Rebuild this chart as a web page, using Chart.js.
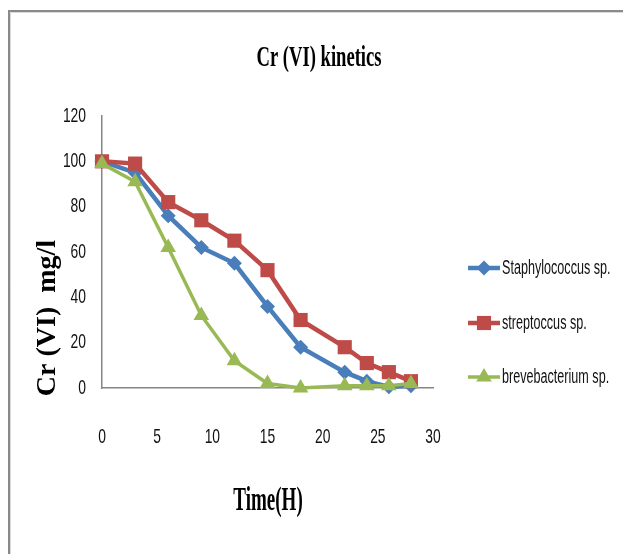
<!DOCTYPE html>
<html>
<head>
<meta charset="utf-8">
<script src="https://cdn.jsdelivr.net/npm/chart.js@4.4.1/dist/chart.umd.min.js"></script>
<style>
html,body{margin:0;padding:0;background:#fff;}
#wrap{width:623px;height:554px;position:relative;}
</style>
</head>
<body>
<div id="wrap"><canvas id="c" width="623" height="554"></canvas></div>
<script>
const chartTitle = "Cr (VI) kinetics";
const xTitle = "Time(H)";
const yTitle = "Cr (VI)  mg/l";
const time = [0, 3, 6, 9, 12, 15, 18, 22, 24, 26, 28];
const staphylococcus = [100, 95, 76, 62, 55, 36, 18, 7, 3, 0.5, 1];
const streptoccus = [100, 99, 82, 74, 65, 52, 30, 18, 11, 7, 3];
const brevebacterium = [99, 91, 62, 32, 12, 2, 0, 1, 1, 1, 2];
const seriesNames = ["Staphylococcus sp.", "streptoccus sp.", "brevebacterium sp."];
const xTicks = [0, 5, 10, 15, 20, 25, 30];
const yTicks = [0, 20, 40, 60, 80, 100, 120];

const colors = ["#4A7EBB", "#BE4B48", "#98B954"];
const styles = ["rectRot", "rect", "triangle"];
const radii = [7.5, 10, 9];
const widths = [4.5, 4.5, 3.5];

function pts(arr){ return time.map((t,i)=>({x:t,y:arr[i]})); }

const datasets = [staphylococcus, streptoccus, brevebacterium].map((arr,i)=>({
  label: seriesNames[i],
  data: pts(arr),
  borderColor: colors[i],
  backgroundColor: colors[i],
  borderWidth: widths[i],
  pointStyle: styles[i],
  pointRadius: radii[i],
  pointBorderWidth: 0,
  pointBackgroundColor: colors[i],
  tension: 0,
  clip: false
}));
datasets[0].order = 3; datasets[1].order = 2; datasets[2].order = 1;

const tickFont = '21px "Liberation Sans"';
const tickSquash = 0.66;

function drawSquashed(ctx, text, x, y, font, sx, align){
  ctx.save();
  ctx.font = font;
  const w = ctx.measureText(text).width * sx;
  let x0 = x;
  if (align === 'center') x0 = x - w/2;
  else if (align === 'right') x0 = x - w;
  ctx.translate(x0, y);
  ctx.scale(sx, 1);
  ctx.textAlign = 'left';
  ctx.fillText(text, 0, 0);
  ctx.restore();
}

const decor = {
  id: 'decor',
  beforeDraw(chart){
    const ctx = chart.ctx;
    ctx.save();
    ctx.fillStyle = '#fff';
    ctx.fillRect(0,0,chart.width,chart.height);
    ctx.strokeStyle = '#8a8a8a';
    ctx.lineWidth = 2;
    ctx.beginPath();
    ctx.moveTo(9, 554); ctx.lineTo(9, 11); ctx.lineTo(623, 11);
    ctx.stroke();
    ctx.strokeStyle = '#d8d8d8';
    ctx.lineWidth = 1;
    ctx.beginPath();
    ctx.moveTo(10.5, 554); ctx.lineTo(10.5, 12.5); ctx.lineTo(623, 12.5);
    ctx.stroke();
    ctx.restore();
  },
  afterDraw(chart){
    const ctx = chart.ctx;
    ctx.save();
    ctx.fillStyle = '#111';
    const xs = chart.scales.x, ys = chart.scales.y;
    ctx.textBaseline = 'middle';
    xTicks.forEach(v => drawSquashed(ctx, String(v), xs.getPixelForValue(v), 437, tickFont, tickSquash, 'center'));
    yTicks.forEach(v => drawSquashed(ctx, String(v), 86, ys.getPixelForValue(v), tickFont, tickSquash, 'right'));
    ctx.fillStyle = '#000';
    ctx.textBaseline = 'alphabetic';
    drawSquashed(ctx, chartTitle, 319, 66, 'bold 30px "Liberation Serif"', 0.62, 'center');
    drawSquashed(ctx, xTitle, 268, 510, 'bold 34px "Liberation Serif"', 0.56, 'center');
    ctx.save();
    ctx.translate(55, 318);
    ctx.rotate(-Math.PI/2);
    ctx.font = 'bold 28px "Liberation Serif"';
    ctx.textAlign = 'center';
    ctx.fillText(yTitle, 0, 0);
    ctx.restore();
    const ly = [268, 323, 377];
    chart.data.datasets.forEach((ds, i) => {
      const y = ly[i];
      ctx.save();
      ctx.strokeStyle = ds.borderColor;
      ctx.lineWidth = ds.borderWidth;
      ctx.beginPath();
      ctx.moveTo(468, y); ctx.lineTo(500, y);
      ctx.stroke();
      ctx.fillStyle = ds.backgroundColor;
      ctx.strokeStyle = ds.backgroundColor;
      Chart.helpers.drawPoint(ctx, {pointStyle: ds.pointStyle, rotation: 0, borderWidth: 0, radius: ds.pointRadius}, 484, y);
      ctx.restore();
      ctx.fillStyle = '#111';
      ctx.textBaseline = 'middle';
      drawSquashed(ctx, ds.label, 502, y, '20px "Liberation Sans"', 0.63, 'left');
    });
    ctx.restore();
  }
};

new Chart(document.getElementById('c'), {
  type: 'line',
  data: { datasets },
  options: {
    responsive: false,
    animation: false,
    layout: { padding: { left: 0, right: 190, top: 116, bottom: 0 } },
    plugins: { legend: { display: false }, title: { display: false }, tooltip: { enabled: false } },
    scales: {
      x: {
        type: 'linear', min: 0, max: 30,
        afterFit(s){ s.height = 166; },
        afterBuildTicks(s){ s.ticks = xTicks.map(v=>({value:v})); },
        grid: { display: true, drawOnChartArea: false, drawTicks: false },
        border: { display: true, color: '#868686', width: 1.5 },
        ticks: { display: false }
      },
      y: {
        min: 0, max: 120,
        afterFit(s){ s.width = 102; },
        afterBuildTicks(s){ s.ticks = yTicks.map(v=>({value:v})); },
        grid: { display: true, drawOnChartArea: false, drawTicks: false },
        border: { display: true, color: '#868686', width: 1.5 },
        ticks: { display: false }
      }
    }
  },
  plugins: [decor]
});
</script>
</body>
</html>
